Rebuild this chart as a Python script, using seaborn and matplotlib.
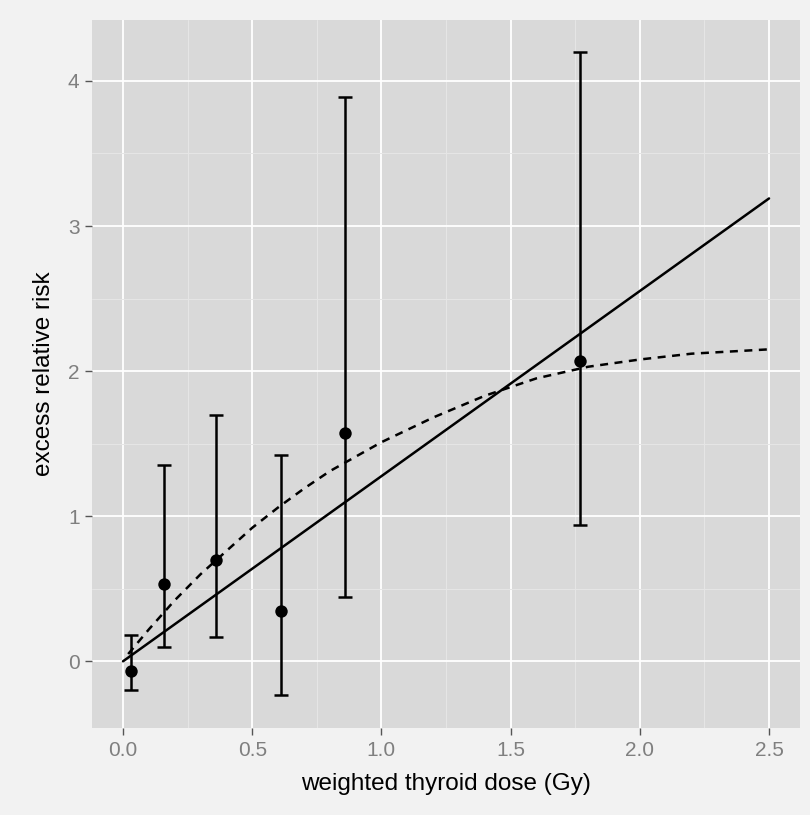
import numpy as np
import pandas as pd
import matplotlib
matplotlib.use("Agg")
import matplotlib.pyplot as plt
import seaborn as sns
from matplotlib.ticker import MultipleLocator

# titik data (dosis, ERR, batas bawah, batas atas)
dose = [0.03, 0.16, 0.36, 0.61, 0.86, 1.77]
err = [-0.07, 0.53, 0.70, 0.35, 1.57, 2.07]
ci_low = [-0.20, 0.10, 0.17, -0.23, 0.44, 0.94]
ci_high = [0.18, 1.35, 1.70, 1.42, 3.89, 4.20]

# model linear
lin_x = [0.0, 2.5]
lin_y = [0.0, 3.19]

# model kurva (garis putus-putus)
curve_x = [0.02, 0.1, 0.2, 0.3, 0.4, 0.5, 0.6, 0.7, 0.8, 0.9, 1.0,
           1.2, 1.4, 1.6, 1.8, 2.0, 2.2, 2.5]
curve_y = [0.05, 0.22, 0.42, 0.60, 0.76, 0.92, 1.06, 1.19, 1.31, 1.41, 1.51,
           1.68, 1.83, 1.95, 2.03, 2.08, 2.12, 2.15]

points_df = pd.DataFrame({'dose': dose, 'err': err, 'lo': ci_low, 'hi': ci_high})
lin_df = pd.DataFrame({'x': lin_x, 'y': lin_y})
curve_df = pd.DataFrame({'x': curve_x, 'y': curve_y})

sns.set_style("darkgrid")
plt.rcParams['font.family'] = ['Liberation Sans', 'DejaVu Sans']

fig = plt.figure(figsize=(8.1, 8.15), dpi=100, facecolor='#f2f2f2')
ax = fig.add_axes([0.1136, 0.1067, 0.8741, 0.8688])
ax.set_facecolor('#d9d9d9')

# grid
ax.xaxis.set_major_locator(MultipleLocator(0.5))
ax.xaxis.set_minor_locator(MultipleLocator(0.25))
ax.yaxis.set_major_locator(MultipleLocator(1))
ax.yaxis.set_minor_locator(MultipleLocator(0.5))
ax.grid(which='major', color='white', linewidth=1.3)
ax.grid(which='minor', color='#e6e6e6', linewidth=0.7)
ax.set_axisbelow(True)
for s in ax.spines.values():
    s.set_visible(False)

# garis model
sns.lineplot(data=lin_df, x='x', y='y', color='black', linewidth=1.8, ax=ax)
sns.lineplot(data=curve_df, x='x', y='y', color='black', linewidth=1.8,
             linestyle=(0, (3.2, 2.6)), ax=ax)

# error bar + titik
ax.errorbar(points_df['dose'], points_df['err'],
            yerr=[points_df['err'] - points_df['lo'], points_df['hi'] - points_df['err']],
            fmt='none', ecolor='black', elinewidth=1.8, capsize=5, capthick=1.8, zorder=3)
sns.scatterplot(data=points_df, x='dose', y='err', color='black', s=80,
                edgecolor='black', linewidth=0, zorder=4, ax=ax)

ax.set_xlim(-0.12, 2.62)
ax.set_ylim(-0.46, 4.42)
ax.set_xticks([0.0, 0.5, 1.0, 1.5, 2.0, 2.5])
ax.set_xticklabels(['0.0', '0.5', '1.0', '1.5', '2.0', '2.5'])
ax.set_yticks([0, 1, 2, 3, 4])
ax.tick_params(which='major', length=5, width=1, color='#555555',
               labelcolor='#7f7f7f', labelsize=15, pad=4, bottom=True, left=True)
ax.tick_params(which='minor', length=0)

ax.set_xlabel('weighted thyroid dose (Gy)', fontsize=17.5, color='black', labelpad=10)
ax.set_ylabel('excess relative risk', fontsize=17.5, color='black', labelpad=9)

fig.savefig('out.png', dpi=100, facecolor=fig.get_facecolor())
